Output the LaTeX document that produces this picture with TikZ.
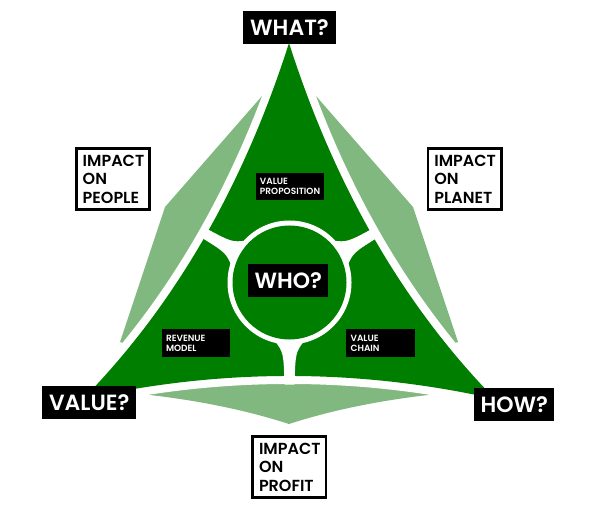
\documentclass[tikz,border=0pt]{standalone}
\usepackage{fontspec}
\setmainfont{Poppins}[BoldFont={Poppins SemiBold}]
\definecolor{dgreen}{RGB}{0,126,0}
\definecolor{lgreen}{RGB}{128,184,128}
\begin{document}
\begin{tikzpicture}[x=1pt,y=-1pt,
  bigbox/.style={fill=black, text=white, inner sep=0pt, minimum height=33.3pt,
    font=\bfseries\fontsize{22}{22}\selectfont},
  smallbox/.style={fill=black, text=white, inner sep=0pt, minimum height=28pt,
    minimum width=68.3pt, text width=59.7pt, align=left,
    font=\bfseries\fontsize{9}{10.8}\selectfont},
  impactbox/.style={draw=black, line width=2.7pt, fill=white, inner sep=0pt,
    minimum width=73.5pt, minimum height=61pt, text width=60.6pt, align=left,
    font=\bfseries\fontsize{16}{18.3}\selectfont},
  gapline/.style={white, line width=16pt, line join=round},
  spoke/.style={fill=white},
  ]
\useasboundingbox (0,0) rectangle (596,510);

% corners of the big triangle
\coordinate (A) at (289,43);
\coordinate (L) at (83,399);
\coordinate (R) at (495,399);
\coordinate (C) at (289.5,282.5);

% light green impact shapes
\fill[lgreen] (262,96) -- (165,207) -- (120,342) -- (145,350) -- (215,250) -- (270,120) -- cycle;
\fill[lgreen] (316,96) -- (413,207) -- (458,342) -- (433,350) -- (363,250) -- (308,120) -- cycle;
\fill[lgreen] (150,395) .. controls (210,402) and (255,413) .. (289,424)
  .. controls (323,413) and (368,402) .. (428,395)
  -- (440,380) -- (289,360) -- (138,380) -- cycle;

% white gap around the triangle, then the triangle
\draw[gapline] (A) .. controls (243,187) and (174.3,305.7) .. (L)
  .. controls (220.3,368.3) and (357.7,368.3) .. (R)
  .. controls (403.7,305.7) and (335,187) .. (A) -- cycle;
\fill[dgreen] (A) .. controls (243,187) and (174.3,305.7) .. (L)
  .. controls (220.3,368.3) and (357.7,368.3) .. (R)
  .. controls (403.7,305.7) and (335,187) .. (A) -- cycle;

% spokes
\foreach \ang in {150,30,270}{
  \begin{scope}[shift={(C)}, rotate=\ang]
    \fill[spoke] (58,15) .. controls (70,6) .. (102,5) -- (102,-5)
      .. controls (70,-6) .. (58,-15) -- cycle;
  \end{scope}
}

% centre circle
\fill[white] (C) circle[radius=62];
\fill[dgreen] (C) circle[radius=57];

% black question boxes
\node[bigbox, minimum width=92.4pt] (what) at (289.5,27.3) {WHAT?};
\node[bigbox, minimum width=93.7pt] (value) at (89.2,402.7) {VALUE?};
\node[bigbox, minimum width=80.3pt] (how) at (514.2,404.3) {HOW?};
\node[bigbox, minimum width=80pt] (who) at (288.3,280.7) {WHO?};

% small labels
\node[smallbox, minimum height=27.3pt] (vp) at (289.8,186.3) {VALUE\\PROPOSITION};
\node[smallbox] (rm) at (195.9,343.3) {REVENUE\\MODEL};
\node[smallbox] (vc) at (380.5,343.3) {VALUE\\CHAIN};

% impact boxes
\node[impactbox] (people) at (113,179.2) {IMPACT\\ON\\PEOPLE};
\node[impactbox] (planet) at (464.7,179.2) {IMPACT\\ON\\PLANET};
\node[impactbox] (profit) at (289.3,467.3) {IMPACT\\ON\\PROFIT};
\end{tikzpicture}
\end{document}
